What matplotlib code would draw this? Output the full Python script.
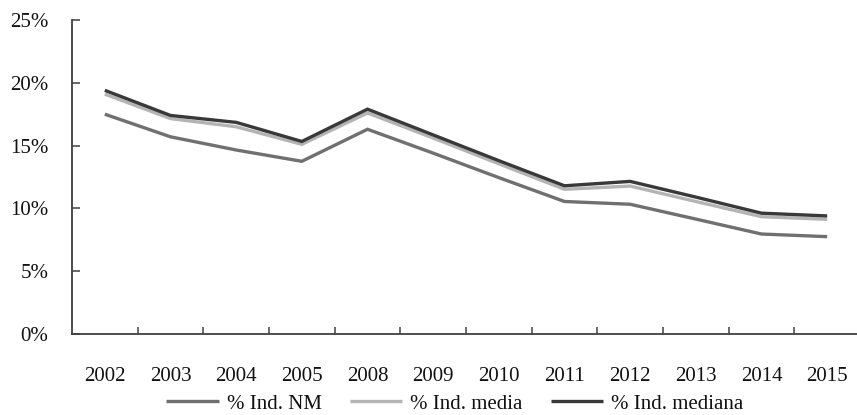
import matplotlib
matplotlib.use("Agg")
import matplotlib.pyplot as plt
import numpy as np

years = ["2002", "2003", "2004", "2005", "2008", "2009", "2010",
         "2011", "2012", "2013", "2014", "2015"]
ind_nm = [17.5, 15.7, 14.65, 13.75, 16.3, 14.4, 12.45, 10.55, 10.33, 9.15, 7.96, 7.75]
ind_media = [19.1, 17.15, 16.5, 15.1, 17.6, 15.6, 13.55, 11.52, 11.78, 10.55, 9.34, 9.13]
ind_mediana = [19.4, 17.4, 16.85, 15.33, 17.9, 15.85, 13.8, 11.8, 12.15, 10.9, 9.62, 9.4]
series_names = ["% Ind. NM", "% Ind. media", "% Ind. mediana"]
y_ticks = [0, 5, 10, 15, 20, 25]
y_tick_labels = ["0%", "5%", "10%", "15%", "20%", "25%"]

plt.rcParams['font.family'] = ['Liberation Serif', 'DejaVu Serif']
W, H = 857, 415
fig = plt.figure(figsize=(W / 100, H / 100), dpi=100)
ax = fig.add_axes([72 / W, 1 - 334 / H, (860 - 72) / W, (334 - 20) / H])

x = np.arange(len(years))
colors = ["#707070", "#b4b4b4", "#393939"]
for vals, name, c in zip([ind_nm, ind_media, ind_mediana], series_names, colors):
    ax.plot(x, vals, color=c, lw=2.4, label=name, solid_capstyle='butt',
            solid_joinstyle='miter')

ax.set_xlim(-0.5, len(years) - 0.5)
ax.set_ylim(0, 25)
ax.set_yticks(y_ticks)
ax.set_yticklabels(y_tick_labels)
ax.set_xticks(x)
ax.set_xticklabels(years)
ax.set_xticks(np.arange(0.5, len(years) - 0.5, 1), minor=True)

spine_c = "#404040"
for s in ["top", "right"]:
    ax.spines[s].set_visible(False)
for s in ["left", "bottom"]:
    ax.spines[s].set_color(spine_c)
    ax.spines[s].set_linewidth(1.3)

ax.tick_params(axis='y', direction='in', length=6, width=1.1, color=spine_c,
               labelsize=15, pad=17, labelcolor="#111111")
ax.tick_params(axis='x', which='major', length=0, labelsize=15, pad=24,
               labelcolor="#111111")
ax.tick_params(axis='x', which='minor', direction='in', length=5, width=1.1,
               color=spine_c)

leg = fig.legend(loc='center', bbox_to_anchor=(455 / W, 1 - 404 / H), ncol=3,
                 frameon=False, fontsize=15, handlelength=2.5,
                 handletextpad=0.4, columnspacing=1.35, borderaxespad=0,
                 borderpad=0)
for t in leg.get_texts():
    t.set_color("#111111")

fig.savefig("out.png", dpi=100)
